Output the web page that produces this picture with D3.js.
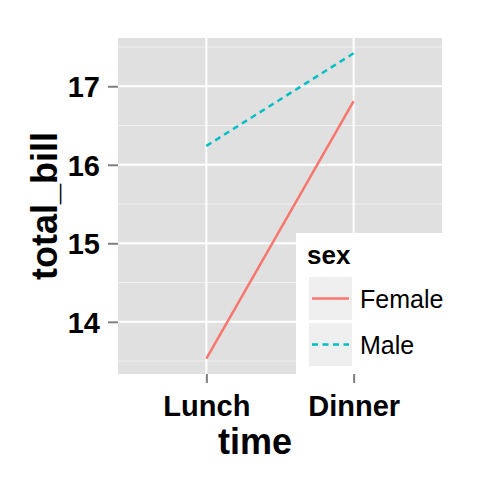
<!DOCTYPE html>
<html><head><meta charset="utf-8">
<script src="https://cdn.jsdelivr.net/npm/d3@7/dist/d3.min.js"></script>
<style>body{margin:0;background:#fff}svg{display:block}text{font-family:"Liberation Sans",Arial,sans-serif}</style>
</head><body>
<script>
const times = ["Lunch", "Dinner"];
const sexes = ["Female", "Male"];
const femaleBill = [13.53, 16.81];
const maleBill = [16.24, 17.42];
const yTicks = [14, 15, 16, 17];
const yMinor = [13.5, 14.5, 15.5, 16.5, 17.5];
const colors = ["#F8766D", "#00BFC4"];
const dashes = [null, "6,4.5"];

const W = 480, H = 480;
const P = {l: 118, r: 442, t: 38, b: 374};
const svg = d3.select("body").append("svg").attr("width", W).attr("height", H);

const all = femaleBill.concat(maleBill);
const lo = d3.min(all), hi = d3.max(all), pad = (hi - lo) * 0.05;
const y = d3.scaleLinear().domain([lo - pad, hi + pad]).range([P.b, P.t]);
const x = d3.scalePoint().domain(times).range([P.l, P.r]).padding(0.6);

svg.append("rect").attr("x", P.l).attr("y", P.t).attr("width", P.r - P.l).attr("height", P.b - P.t).attr("fill", "#E0E0E0");

const g = svg.append("g");
g.selectAll(".mn").data(yMinor.filter(v => y(v) > P.t && y(v) < P.b)).join("line")
  .attr("x1", P.l).attr("x2", P.r).attr("y1", d => y(d)).attr("y2", d => y(d))
  .attr("stroke", "#F0F0F0").attr("stroke-width", 1);
g.selectAll(".mj").data(yTicks).join("line")
  .attr("x1", P.l).attr("x2", P.r).attr("y1", d => y(d)).attr("y2", d => y(d))
  .attr("stroke", "#fff").attr("stroke-width", 2);
g.selectAll(".vx").data(times).join("line")
  .attr("x1", d => x(d)).attr("x2", d => x(d)).attr("y1", P.t).attr("y2", P.b)
  .attr("stroke", "#fff").attr("stroke-width", 2);

const series = [femaleBill, maleBill];
const line = d3.line().x((d, i) => x(times[i])).y(d => y(d));
series.forEach((s, k) => {
  svg.append("path").attr("d", line(s)).attr("fill", "none")
    .attr("stroke", colors[k]).attr("stroke-width", 2.5)
    .attr("stroke-dasharray", dashes[k]);
});

// axes
const ya = svg.append("g").attr("transform", `translate(${P.l},0)`)
  .call(d3.axisLeft(y).tickValues(yTicks).tickSize(10).tickPadding(8).tickFormat(d3.format("d")));
ya.select(".domain").remove();
ya.selectAll(".tick line").attr("stroke", "#7F7F7F").attr("stroke-width", 2);
ya.selectAll(".tick text").attr("font-size", 29).attr("font-weight", "bold").attr("fill", "#000")
  .attr("font-family", "Liberation Sans, Arial, sans-serif").attr("dy", "0.36em");

const xa = svg.append("g").attr("transform", `translate(0,${P.b})`)
  .call(d3.axisBottom(x).tickSize(9).tickPadding(6));
xa.select(".domain").remove();
xa.selectAll(".tick line").attr("stroke", "#7F7F7F").attr("stroke-width", 2);
xa.selectAll(".tick text").attr("font-size", 29).attr("font-weight", "bold").attr("fill", "#000")
  .attr("font-family", "Liberation Sans, Arial, sans-serif").attr("dy", null).attr("y", 42);

svg.append("text").attr("x", 255).attr("y", 454).attr("text-anchor", "middle")
  .attr("font-size", 36).attr("font-weight", "bold").text("time");
svg.append("text").attr("transform", "translate(57,206) rotate(-90)").attr("text-anchor", "middle")
  .attr("font-size", 36).attr("font-weight", "bold").text("total_bill");

// legend
const lg = svg.append("g");
lg.append("rect").attr("x", 296).attr("y", 233).attr("width", 170).attr("height", P.b - 233).attr("fill", "#fff");
lg.append("text").attr("x", 307).attr("y", 264).attr("font-size", 26).attr("font-weight", "bold").text("sex");
sexes.forEach((s, k) => {
  const top = 277 + k * 46;
  lg.append("rect").attr("x", 309).attr("y", top).attr("width", 43).attr("height", 43).attr("fill", "#EFEFEF");
  lg.append("line").attr("x1", 312).attr("x2", 349).attr("y1", top + 21.5).attr("y2", top + 21.5)
    .attr("stroke", colors[k]).attr("stroke-width", 2.5).attr("stroke-dasharray", dashes[k]);
  lg.append("text").attr("x", 360).attr("y", top + 30.5).attr("font-size", 25).text(s);
});
</script>
</body></html>
